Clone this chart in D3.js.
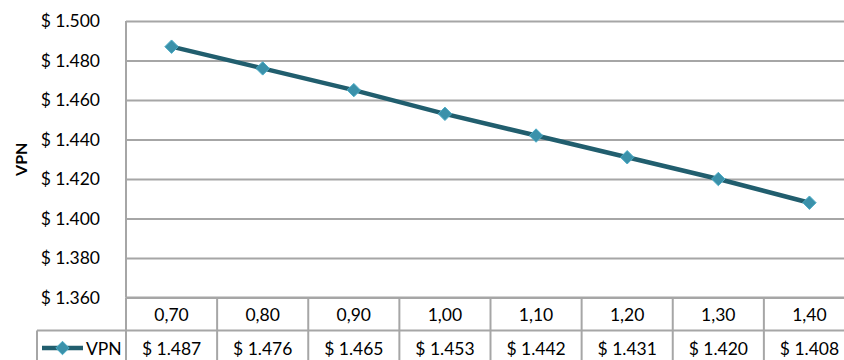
<!DOCTYPE html>
<html>
<head>
<meta charset="utf-8">
<script src="https://cdn.jsdelivr.net/npm/d3@7"></script>
<style>
  html, body { margin: 0; padding: 0; background: #fff; }
  svg { display: block; font-family: Lato, "Open Sans", sans-serif; }
</style>
</head>
<body>
<svg id="chart" width="844" height="360"></svg>
<script>
// Sensitivity of VPN to the multiplier
const categories = [0.70, 0.80, 0.90, 1.00, 1.10, 1.20, 1.30, 1.40];
const seriesName = "VPN";
const vpnValues = [1487, 1476, 1465, 1453, 1442, 1431, 1420, 1408];
const yTicks = [1360, 1380, 1400, 1420, 1440, 1460, 1480, 1500];

const locale = d3.formatLocale({
  decimal: ",", thousands: ".", grouping: [3], currency: ["$ ", ""]
});
const fmtMoney = locale.format("$,.0f");
const fmtCat = locale.format(".2f");
const fmtCell = locale.format("$,.0f");

const svg = d3.select("#chart");
const plotLeft = 126, plotRight = 855, plotTop = 21, plotBottom = 297.5;
const rowH = 33;
const legendLeft = 37;
const fontSize = 17.5;

const lineColor = "#215E6E";
const markerColor = "#3B91AA";
const gridColor = "#A6A6A6";

const x = d3.scaleBand().domain(categories).range([plotLeft, plotRight]);
const y = d3.scaleLinear().domain([1360, 1500]).range([plotBottom, plotTop]);

// y axis with full-width gridlines
const yAxis = svg.append("g")
  .attr("transform", `translate(${plotLeft},0)`)
  .call(d3.axisLeft(y).tickValues(yTicks).tickFormat(fmtMoney)
        .tickSize(-(plotRight - plotLeft)).tickPadding(26));
yAxis.select(".domain").remove();
yAxis.selectAll(".tick line").attr("stroke", gridColor).attr("stroke-width", 2);
yAxis.selectAll(".tick text").attr("font-size", fontSize).attr("fill", "#000")
  .attr("font-family", "Lato, sans-serif");

// plot left edge
svg.append("line")
  .attr("x1", plotLeft).attr("x2", plotLeft).attr("y1", plotTop).attr("y2", plotBottom)
  .attr("stroke", gridColor).attr("stroke-width", 2);

// y axis title
svg.append("text")
  .attr("transform", `translate(27,${(plotTop + plotBottom) / 2}) rotate(-90)`)
  .attr("text-anchor", "middle")
  .attr("font-size", 16).attr("font-weight", "bold")
  .text("VPN");

// series line
const line = d3.line().x(d => x(d[0]) + x.bandwidth() / 2).y(d => y(d[1]));
const pts = categories.map((c, i) => [c, vpnValues[i]]);
svg.append("path")
  .datum(pts)
  .attr("d", line)
  .attr("fill", "none")
  .attr("stroke", lineColor)
  .attr("stroke-width", 4.5);

const diamond = d3.symbol().type(d3.symbolDiamond2).size(115);
svg.selectAll(".marker").data(pts).join("path")
  .attr("class", "marker")
  .attr("transform", d => `translate(${x(d[0]) + x.bandwidth() / 2},${y(d[1])})`)
  .attr("d", diamond)
  .attr("fill", markerColor)
  .attr("stroke", "#4BACC6").attr("stroke-width", 1);

// data table below the plot
const table = svg.append("g");
const row1 = plotBottom, row2 = plotBottom + rowH, row3 = plotBottom + 2 * rowH + 10;
const gl = (x1, y1, x2, y2) => table.append("line")
  .attr("x1", x1).attr("y1", y1).attr("x2", x2).attr("y2", y2)
  .attr("stroke", gridColor).attr("stroke-width", 2);

gl(plotLeft, row1, plotRight, row1);
gl(legendLeft, row2, plotRight, row2);
gl(legendLeft, row2, legendLeft, row3);
gl(plotLeft, row1, plotLeft, row3);
categories.forEach(c => gl(x(c) + x.bandwidth(), row1, x(c) + x.bandwidth(), row3));

table.selectAll(".cat").data(categories).join("text")
  .attr("x", d => x(d) + x.bandwidth() / 2)
  .attr("y", row1 + rowH / 2 + 6.5)
  .attr("text-anchor", "middle").attr("font-size", fontSize)
  .text(d => fmtCat(d));

table.selectAll(".val").data(pts).join("text")
  .attr("x", d => x(d[0]) + x.bandwidth() / 2)
  .attr("y", row2 + rowH / 2 + 7.5)
  .attr("text-anchor", "middle").attr("font-size", fontSize)
  .text(d => fmtCell(d[1]));

// legend key in the table
const ly = row2 + rowH / 2 + 1;
table.append("line")
  .attr("x1", 42).attr("x2", 83).attr("y1", ly).attr("y2", ly)
  .attr("stroke", lineColor).attr("stroke-width", 4.5);
table.append("path")
  .attr("transform", `translate(62.5,${ly})`)
  .attr("d", diamond)
  .attr("fill", markerColor).attr("stroke", "#4BACC6");
table.append("text")
  .attr("x", 86).attr("y", row2 + rowH / 2 + 7.5)
  .attr("font-size", fontSize).text(seriesName);
</script>
</body>
</html>
